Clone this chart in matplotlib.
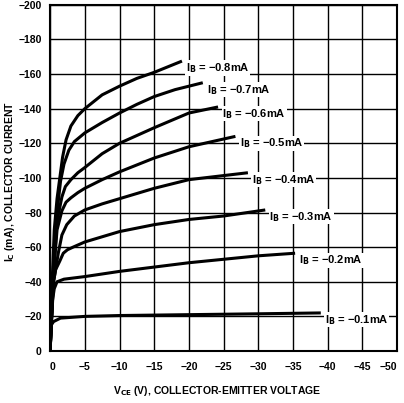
import matplotlib
matplotlib.use('Agg')
import matplotlib.pyplot as plt

# BASE CURRENTS (mA)
ib_values = [-0.8, -0.7, -0.6, -0.5, -0.4, -0.3, -0.2, -0.1]

# CURVES: VCE (V) AND IC (mA)
vce_08 = [0, -0.3, -0.6, -1, -1.4, -1.8, -2.3, -3, -4, -5, -7.5, -10, -12.5, -15, -19]
ic_08 = [0, -40, -70, -88, -100, -112, -122, -130, -136, -140, -148, -153, -157.5, -161, -167.5]

vce_07 = [0, -0.5, -1, -1.5, -2, -2.7, -3.5, -5, -7.5, -10, -12.5, -15, -18, -22]
ic_07 = [0, -50, -80, -98, -108, -116, -121, -126, -132, -137.5, -142.5, -147, -151, -155]

vce_06 = [0, -0.5, -1, -1.7, -2.2, -3, -4, -5, -7.5, -10, -15, -20, -24.2]
ic_06 = [0, -45, -75, -89, -95, -99, -103, -106, -114, -120, -129, -137.5, -141]

vce_05 = [0, -0.5, -1, -1.7, -2.3, -3, -4, -5, -7.5, -10, -15, -20, -26.7]
ic_05 = [0, -45, -70, -81, -86, -88.5, -91.5, -94, -99, -103.5, -111.5, -118, -124]

vce_04 = [0, -0.5, -1.2, -1.7, -2.4, -3.5, -5, -7.5, -10, -15, -20, -28.5]
ic_04 = [0, -40, -57, -67, -73, -78, -81.5, -85, -88, -94, -99, -103]

vce_03 = [0, -0.4, -0.8, -1.4, -1.9, -2.5, -3.3, -5, -10, -15, -20, -25, -31]
ic_03 = [0, -38, -47, -52, -56.5, -58.5, -60, -63, -69, -73, -76, -78, -81.5]

vce_02 = [0, -0.3, -0.6, -1, -2, -5, -10, -15, -20, -25, -30, -35.3]
ic_02 = [0, -28, -36, -40, -41.5, -43, -46, -48.5, -51, -53, -55, -56.5]

vce_01 = [0, 0, -0.5, -1.5, -5, -10, -20, -30, -39]
ic_01 = [0, -14, -17, -19, -20, -20.5, -21, -21.5, -22]

x_ticks = [0, -5, -10, -15, -20, -25, -30, -35, -40, -45, -50]
y_ticks = [0, -20, -40, -60, -80, -100, -120, -140, -160, -180, -200]


def plot_curves():
    plt.rcParams['font.family'] = ['Liberation Sans', 'DejaVu Sans']
    plt.rcParams['font.weight'] = 'bold'
    plt.rcParams['mathtext.default'] = 'bf'

    fig = plt.figure(figsize=(4.04, 4.03), dpi=100)
    ax = fig.add_axes([0.124, 0.129, 0.859, 0.859])

    curves = [(vce_08, ic_08), (vce_07, ic_07), (vce_06, ic_06), (vce_05, ic_05),
              (vce_04, ic_04), (vce_03, ic_03), (vce_02, ic_02), (vce_01, ic_01)]

    #PLOT CURVES AND LABELS
    for ib, (vce, ic) in zip(ib_values, curves):
        ax.plot(vce, ic, color='black', linewidth=2.2, solid_capstyle='butt',
                solid_joinstyle='round')
        label = 'I$_B$ = \u2212' + str(abs(ib)) + 'mA'
        ax.text(vce[-1] - 0.6, ic[-1] + 4, label, fontsize=8, fontweight='bold',
                ha='left', va='center',
                bbox=dict(facecolor='white', edgecolor='none', pad=0.5))

    #AXES
    ax.set_xlim(0, -50)
    ax.set_ylim(0, -200)
    ax.set_xticks(x_ticks)
    ax.set_yticks(y_ticks)
    ax.grid(True, color='black', linewidth=1.0)
    ax.set_axisbelow(True)
    ax.tick_params(length=0, labelsize=7.5)
    ax.tick_params(axis='x', pad=8)
    ax.tick_params(axis='y', pad=6)
    for label in ax.get_xticklabels() + ax.get_yticklabels():
        label.set_fontweight('bold')
    xlabels = ax.get_xticklabels()
    xlabels[0].set_ha('left')
    xlabels[-1].set_ha('right')
    for spine in ax.spines.values():
        spine.set_linewidth(1.5)

    #SET LABELS
    ax.set_xlabel('V$_{CE}$ (V), COLLECTOR-EMITTER VOLTAGE', fontsize=7.5,
                  fontweight='bold')
    ax.set_ylabel('I$_C$ (mA), COLLECTOR CURRENT', fontsize=7.5,
                  fontweight='bold')
    ax.xaxis.set_label_coords(0.48, -0.095)
    ax.yaxis.set_label_coords(-0.095, 0.49)

    fig.savefig('out.png', dpi=100)


if __name__ == "__main__":
    plot_curves()
